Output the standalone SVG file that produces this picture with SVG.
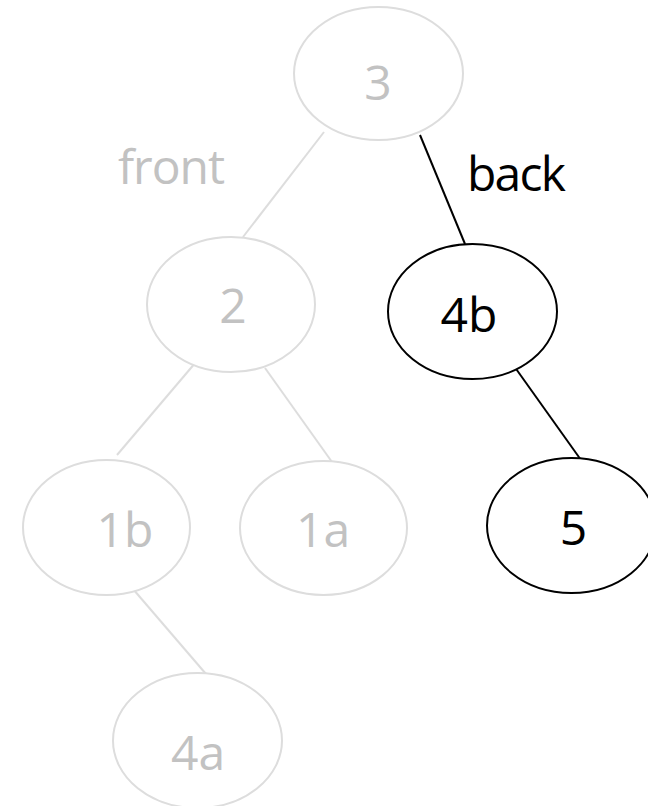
<svg xmlns="http://www.w3.org/2000/svg" width="648" height="806" viewBox="0 0 648 806">
<style>
.gn ellipse{fill:#ffffff;stroke:#dddddd;stroke-width:2}
.bn ellipse{fill:#ffffff;stroke:#000000;stroke-width:2}
text{font-family:"Open Sans","Noto Sans","DejaVu Sans",sans-serif;font-size:48px;text-anchor:middle}
.gn text,.gl{fill:#c2c2c2}
.bn text,.bl{fill:#000000}
.ge{stroke:#dddddd;stroke-width:2;fill:none}
.be{stroke:#000000;stroke-width:2;fill:none}
</style>
<rect width="648" height="806" fill="#ffffff"/>
<g id="connectors">
<line class="ge" x1="324" y1="132" x2="243" y2="237"/>
<line class="be" x1="420" y1="135" x2="465" y2="244"/>
<line class="ge" x1="196" y1="362" x2="117" y2="455"/>
<line class="ge" x1="265" y1="368" x2="332" y2="462"/>
<line class="be" x1="514" y1="366" x2="581" y2="460"/>
<line class="ge" x1="133" y1="589" x2="206" y2="674"/>
<text class="gl" x="118" y="184" style="text-anchor:start" textLength="107">front</text>
<text class="bl" x="467" y="191" style="text-anchor:start" textLength="99">back</text>
</g>
<g id="n3" class="gn"><ellipse cx="378.5" cy="73.5" rx="84.5" ry="66.5"/><text x="378" y="100">3</text></g>
<g id="n2" class="gn"><ellipse cx="231" cy="304.5" rx="84" ry="67.5"/><text x="233" y="323">2</text></g>
<g id="n4b" class="bn"><ellipse cx="472.5" cy="311.5" rx="84.5" ry="67.5"/><text x="469" y="332">4b</text></g>
<g id="n1b" class="gn"><ellipse cx="106.5" cy="527.5" rx="83.5" ry="67.5"/><text x="125" y="547">1b</text></g>
<g id="n1a" class="gn"><ellipse cx="323.5" cy="528" rx="83.5" ry="67"/><text x="323" y="547">1a</text></g>
<g id="n5" class="bn"><ellipse cx="571.5" cy="525.5" rx="84.5" ry="67.5"/><text x="573.5" y="545">5</text></g>
<g id="n4a" class="gn"><ellipse cx="197.5" cy="740.5" rx="84.5" ry="67.5"/><text x="198" y="770">4a</text></g>
</svg>
